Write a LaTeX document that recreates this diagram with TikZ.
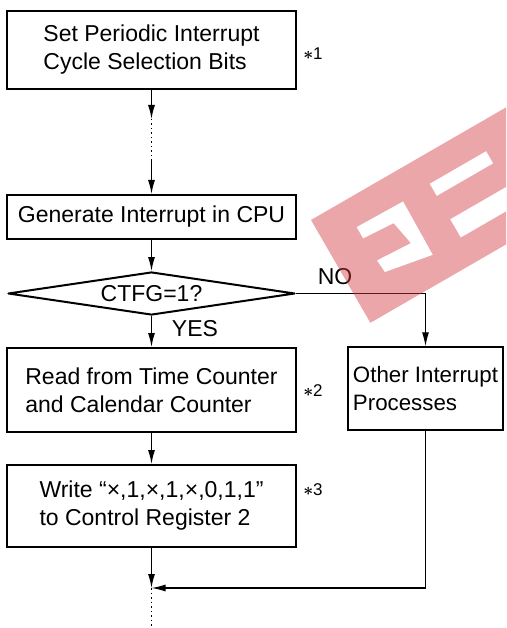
\documentclass[tikz,border=0pt]{standalone}
\usepackage{bm}
\usepackage{fontspec}
\setmainfont{Liberation Sans}
\usetikzlibrary{arrows.meta,positioning,shapes.geometric}
\definecolor{Ink}{HTML}{000000}
\definecolor{Stamp}{HTML}{D33A43}

\begin{document}
\begin{tikzpicture}[x=1pt,y=-1pt,font=\fontsize{23}{28}\selectfont,
    box/.style={draw=Ink,line width=2pt,minimum width=289pt,align=left,inner sep=0pt},
    flow/.style={draw=Ink,line width=1.3pt,-{Latex[length=14pt,width=7pt]}},
    dotline/.style={draw=Ink,line width=1.3pt,dash pattern=on 1.5pt off 3pt},
    starmark/.style={font=\fontsize{17}{20}\selectfont}]
      \useasboundingbox (0,0) rectangle (506,628);
      \node[box,minimum height=78pt] (setbits) at (151.5,50) {Set Periodic Interrupt\\Cycle Selection Bits};
      \node[box,minimum height=44pt] (genint) at (151.5,217) {Generate Interrupt in CPU};
      \node[diamond,draw=Ink,line width=2pt,line join=round,aspect=6.7,inner sep=0pt,
        minimum width=287pt,minimum height=43pt] (ctfg) at (151.5,293.5) {CTFG=1?};
      \node[box,minimum height=84pt] (readcnt) at (151.5,390) {Read from Time Counter\\and Calendar Counter};
      \node[box,minimum height=82pt] (writecr) at (151.5,506) {Write “×,1,×,1,×,0,1,1”\\to Control Register 2};
      \node[draw=Ink,line width=1.4pt,minimum width=155pt,minimum height=83pt,align=left,inner sep=0pt,
        font=\fontsize{22.3}{28}\selectfont] (other) at (425.5,388.5) {Other Interrupt\\Processes};
      \node[starmark] (note1) at (313,54) {$\bm{\ast}$1};
      \node[starmark] (note2) at (313,391) {$\bm{\ast}$2};
      \node[starmark] (note3) at (313,490) {$\bm{\ast}$3};
      \node (yes) at (195,329) {YES};
      \node (no) at (335,277) {NO};
      \coordinate (gaptop) at (151.5,119);
      \coordinate (gapbot) at (151.5,160);
      \coordinate (join) at (151.5,588);
      \coordinate (tail) at (151.5,628);
      \draw[flow] (setbits) -- (gaptop);
      \draw[dotline] (gaptop) -- (gapbot);
      \draw[flow] (gapbot) -- (genint);
      \draw[flow] (genint) -- (ctfg);
      \draw[flow] (ctfg) -- (readcnt);
      \draw[flow] (readcnt) -- (writecr);
      \draw[flow,line width=1.2pt] (ctfg.east) -| (other.north);
      \draw[flow] (writecr) -- (join);
      \draw[flow,line width=1.2pt] (other.south) |- (join);
      \draw[dotline] (join) -- (tail);
      \begin{scope}
        \clip (0,0) rectangle (506,628);
        \begin{scope}[shift={(311,220)},rotate=30]
          \fill[Stamp,opacity=.45] (0,0) rectangle (320,118.7);
          \fill[white] (36,29) -- (89,30) -- (88,91) -- (38,82) -- (37,68) -- (75,70) -- (70,44) -- (36,42) -- cycle;
          \fill[white] (121,28) rectangle (186,42);
          \fill[white] (121,69) rectangle (220,90);
        \end{scope}
      \end{scope}
    \end{tikzpicture}
\end{document}
